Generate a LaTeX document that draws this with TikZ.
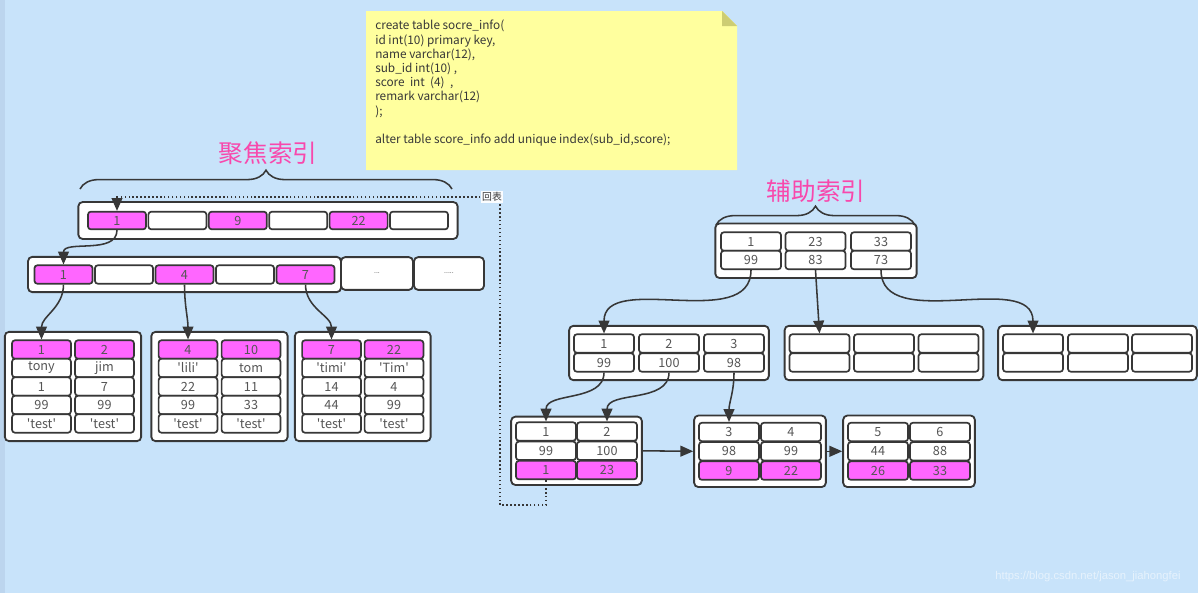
\documentclass[tikz,border=0pt]{standalone}
\usepackage{fontspec}
\setmainfont{Noto Sans CJK SC}[Ligatures=TeXOff]
\newfontfamily\markfont{Liberation Sans}
\usetikzlibrary{arrows.meta,positioning,fit,backgrounds,decorations.pathreplacing}
\definecolor{sky}{RGB}{200,227,250}
\definecolor{skyedge}{RGB}{188,213,238}
\definecolor{memo}{RGB}{255,255,158}
\definecolor{memofold}{RGB}{205,205,115}
\definecolor{ink}{RGB}{55,55,55}
\definecolor{keypink}{RGB}{255,102,255}
\definecolor{rose}{RGB}{248,72,172}
\tikzset{
  >={Triangle[length=3.2mm,width=2.7mm]},
  cell/.style={draw=ink,fill=#1,line width=1.2pt,rounded corners=2pt,
    minimum width=1.47cm,minimum height=0.46cm,inner sep=0pt,
    font=\fontsize{9}{10}\selectfont,text=ink!85},
  cell/.default=white,
  keycell/.style={cell=keypink},
  pagebox/.style={draw=ink,fill=white,line width=1.3pt,rounded corners=3pt,
    inner xsep=0.16cm,inner ysep=0.19cm},
  link/.style={->,line width=1.1pt,draw=ink},
  backpath/.style={line width=1.2pt,draw=ink,dash pattern=on 1.1pt off 1.7pt},
  curly/.style={decorate,decoration={brace,amplitude=0.47cm},line width=1.1pt,draw=ink},
  headline/.style={font=\fontsize{17.5}{20}\selectfont,text=rose},
}

\begin{document}
\begin{tikzpicture}[x=0.025cm,y=-0.025cm]
  \useasboundingbox (0,0) rectangle (1198,593);
  \begin{scope}[on background layer]
    \fill[sky] (0,0) rectangle (1198,593);
    \fill[skyedge] (0,0) rectangle (5,593);
  \end{scope}

  % table definition note
  \fill[memo] (366,11) -- (722,11) -- (737,26) -- (737,170) -- (366,170) -- cycle;
  \fill[memofold] (722,11) -- (722,26) -- (737,26) -- cycle;
  \node[anchor=north west,align=left,inner sep=0pt,text=ink,
    font=\fontsize{8.4}{10.1}\selectfont] (ddl) at (375,20)
    {create table socre\_info(\\
     id int(10) primary key,\\
     name varchar(12),\\
     sub\_id int(10) ,\\
     score\ \ int\ \ (4)\ \ ,\\
     remark varchar(12)\\
     );\\[10.1pt]
     alter table score\_info add unique index(sub\_id,score);};

  % clustered index
  \node[headline] (ctitle) at (268,153) {聚焦索引};
  \draw[curly] (80,189) -- (452,189);
  \foreach \i/\v/\s in {1/1/keycell,2//cell,3/9/keycell,4//cell,5/22/keycell,6//cell}
    \node[\s,minimum width=1.45cm,minimum height=0.44cm] (cr\i) at ({117+60.4*(\i-1)},220.5) {\v};
  \foreach \i/\v/\s in {1/1/keycell,2//cell,3/4/keycell,4//cell,5/7/keycell}
    \node[\s,minimum width=1.45cm,minimum height=0.46cm] (cm\i) at ({63.5+60.5*(\i-1)},274.5) {\v};
  \node[pagebox,minimum width=1.8cm,minimum height=0.82cm,font=\tiny,text=ink] (cdots1) at (377,273.5) {...};
  \node[pagebox,minimum width=1.75cm,minimum height=0.82cm,font=\tiny,text=ink] (cdots2) at (449,273.5) {.....};
  \foreach \r/\a/\b/\s in {1/1/2/keycell,2/tony/jim/cell,3/1/7/cell,4/99/99/cell,5/'test'/'test'/cell} {
    \node[\s] (cla\r) at (41.5,{349.5+18.5*(\r-1)}) {\a};
    \node[\s] (clb\r) at (104.5,{349.5+18.5*(\r-1)}) {\b};
  }
  \foreach \r/\a/\b/\s in {1/4/10/keycell,2/'lili'/tom/cell,3/22/11/cell,4/99/33/cell,5/'test'/'test'/cell} {
    \node[\s] (c2a\r) at (188,{349.5+18.5*(\r-1)}) {\a};
    \node[\s] (c2b\r) at (251,{349.5+18.5*(\r-1)}) {\b};
  }
  \foreach \r/\a/\b/\s in {1/7/22/keycell,2/'timi'/'Tim'/cell,3/14/4/cell,4/44/99/cell,5/'test'/'test'/cell} {
    \node[\s] (c3a\r) at (331.5,{349.5+18.5*(\r-1)}) {\a};
    \node[\s] (c3b\r) at (394,{349.5+18.5*(\r-1)}) {\b};
  }
  \begin{scope}[on background layer]
    \node[pagebox,fit=(cr1)(cr6),inner xsep=0.22cm,inner ysep=0.22cm] (croot) {};
    \node[pagebox,fit=(cm1)(cm5),inner xsep=0.14cm] (cmid) {};
    \node[pagebox,fit=(cla1)(clb5)] (cleaf1) {};
    \node[pagebox,fit=(c2a1)(c2b5)] (cleaf2) {};
    \node[pagebox,fit=(c3a1)(c3b5)] (cleaf3) {};
  \end{scope}
  \draw[link] (cr1.south) to[out=-90,in=90] (cm1.north);
  \draw[link] (cm1.south) to[out=-90,in=90] (cla1.north);
  \draw[link] (cm3.south) to[out=-90,in=90] (c2a1.north);
  \draw[link] (cm5.south) to[out=-90,in=90] (c3a1.north);

  % secondary index
  \node[headline] (stitle) at (816,191) {辅助索引};
  \draw[curly] (716,225) -- (915,225);
  \foreach \i/\a/\b/\x in {1/1/99/751,2/23/83/815.5,3/33/73/881} {
    \node[cell,minimum width=1.5cm] (sr\i a) at (\x,241.5) {\a};
    \node[cell,minimum width=1.5cm] (sr\i b) at (\x,260) {\b};
  }
  \foreach \i/\a/\b/\x in {1/1/99/604,2/2/100/669,3/3/98/734} {
    \node[cell,minimum width=1.5cm] (sa\i a) at (\x,343.5) {\a};
    \node[cell,minimum width=1.5cm] (sa\i b) at (\x,362.5) {\b};
  }
  \foreach \i/\x in {1/819.5,2/884,3/948.5} {
    \node[cell,minimum width=1.5cm] (sb\i a) at (\x,343.5) {};
    \node[cell,minimum width=1.5cm] (sb\i b) at (\x,362.5) {};
  }
  \foreach \i/\x in {1/1033,2/1098,3/1162} {
    \node[cell,minimum width=1.5cm] (sc\i a) at (\x,343.5) {};
    \node[cell,minimum width=1.5cm] (sc\i b) at (\x,362.5) {};
  }
  \foreach \r/\a/\b/\s in {1/1/2/cell,2/99/100/cell,3/1/23/keycell} {
    \node[\s,minimum width=1.5cm] (sla\r) at (546,{431.5+19.3*(\r-1)}) {\a};
    \node[\s,minimum width=1.5cm] (slb\r) at (607,{431.5+19.3*(\r-1)}) {\b};
  }
  \foreach \r/\a/\b/\s in {1/3/4/cell,2/98/99/cell,3/9/22/keycell} {
    \node[\s,minimum width=1.5cm] (s2a\r) at (729,{432+19.3*(\r-1)}) {\a};
    \node[\s,minimum width=1.5cm] (s2b\r) at (791,{432+19.3*(\r-1)}) {\b};
  }
  \foreach \r/\a/\b/\s in {1/5/6/cell,2/44/88/cell,3/26/33/keycell} {
    \node[\s,minimum width=1.5cm] (s3a\r) at (878,{432+19.3*(\r-1)}) {\a};
    \node[\s,minimum width=1.5cm] (s3b\r) at (940,{432+19.3*(\r-1)}) {\b};
  }
  \begin{scope}[on background layer]
    \node[pagebox,fit=(sr1a)(sr3b),inner xsep=0.12cm,inner ysep=0.2cm] (sroot) {};
    \node[pagebox,fit=(sa1a)(sa3b),inner xsep=0.1cm] (smidA) {};
    \node[pagebox,fit=(sb1a)(sb3b),inner xsep=0.1cm] (smidB) {};
    \node[pagebox,fit=(sc1a)(sc3b),inner xsep=0.1cm] (smidC) {};
    \node[pagebox,fit=(sla1)(slb3),inner ysep=0.12cm,inner xsep=0.1cm] (sleaf1) {};
    \node[pagebox,fit=(s2a1)(s2b3),inner ysep=0.16cm,inner xsep=0.1cm] (sleaf2) {};
    \node[pagebox,fit=(s3a1)(s3b3),inner ysep=0.16cm,inner xsep=0.1cm] (sleaf3) {};
  \end{scope}
  \draw[link] (sr1b.south) to[out=-90,in=90] (sa1a.north);
  \draw[link] (sr2b.south) -- (sb1a.north);
  \draw[link] (sr3b.south) to[out=-90,in=90] (sc1a.north);
  \draw[link] (sa1b.south) to[out=-90,in=90] (sla1.north);
  \draw[link] (sa2b.south) to[out=-90,in=90] (slb1.north);
  \draw[link] (sa3b.south) to[out=-90,in=90] (s2a1.north);
  \draw[link] (sleaf1.east) -- (sleaf2.west);
  \draw[link] (sleaf2.east) -- (sleaf3.west);

  % back to the table
  \node[fill=white!92!sky,inner sep=1pt,font=\fontsize{7}{8}\selectfont,text=ink] (huibiao) at (492,197) {回表};
  \coordinate (turn) at (500,505);
  \draw[backpath] (sla3.south) |- (turn) -- (turn |- huibiao.south);
  \draw[backpath,->] (huibiao.west) -| (cr1.north);

  \node[font=\markfont\fontsize{8}{9}\selectfont,text=white,opacity=0.55] (mark) at (1088,577) {https://blog.csdn.net/jason\_jiahongfei};
\end{tikzpicture}
\end{document}
